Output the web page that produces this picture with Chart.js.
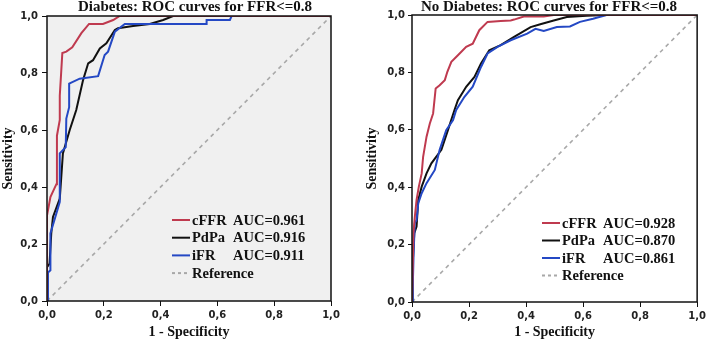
<!DOCTYPE html>
<html>
<head>
<meta charset="utf-8">
<script src="https://cdn.jsdelivr.net/npm/chart.js@4/dist/chart.umd.min.js"></script>
<style>
  html, body { margin:0; padding:0; background:#ffffff; width:709px; height:344px; overflow:hidden; }
  .panel { position:absolute; top:0; height:344px; }
</style>
</head>
<body>
<div class="panel" style="left:0px;width:350px"><canvas id="c1" width="350" height="344"></canvas></div>
<div class="panel" style="left:355px;width:354px"><canvas id="c2" width="354" height="344"></canvas></div>
<script>
// ---------- DATA ----------
const seriesNames = ['cFFR', 'PdPa', 'iFR'];
const referenceName = 'Reference';
const titles = ['Diabetes: ROC curves for FFR<=0.8', 'No Diabetes: ROC curves for FFR<=0.8'];
const xTitle = '1 - Specificity';
const yTitle = 'Sensitivity';
const tickValues = [0, 0.2, 0.4, 0.6, 0.8, 1.0];

const aucDiabetes = ['0.961', '0.916', '0.911'];
const aucNoDiabetes = ['0.928', '0.870', '0.861'];

// [1 - specificity, sensitivity]
const diabetes_cFFR = [[0,0],[0,0.30],[0.012,0.365],[0.033,0.41],[0.035,0.58],[0.045,0.635],[0.045,0.72],[0.054,0.87],[0.068,0.875],[0.089,0.89],[0.121,0.94],[0.148,0.972],[0.197,0.972],[0.233,0.986],[0.256,1.0],[1,1]];
const diabetes_PdPa = [[0,0],[0,0.119],[0.009,0.131],[0.015,0.237],[0.021,0.295],[0.045,0.359],[0.056,0.518],[0.080,0.60],[0.103,0.67],[0.127,0.775],[0.145,0.834],[0.162,0.845],[0.186,0.886],[0.209,0.904],[0.239,0.951],[0.250,0.957],[0.303,0.965],[0.362,0.972],[0.409,0.986],[0.444,1.0],[1,1]];
const diabetes_iFR = [[0,0],[0.0035,0.10],[0.012,0.108],[0.012,0.237],[0.033,0.307],[0.045,0.348],[0.045,0.518],[0.066,0.54],[0.068,0.64],[0.078,0.68],[0.078,0.763],[0.115,0.78],[0.180,0.789],[0.203,0.863],[0.215,0.875],[0.239,0.945],[0.274,0.972],[0.562,0.972],[0.562,0.986],[0.644,0.986],[0.650,1.0],[1,1]];

const noDiabetes_cFFR = [[0,0],[0.005,0.24],[0.010,0.298],[0.016,0.356],[0.024,0.402],[0.034,0.448],[0.039,0.506],[0.051,0.576],[0.0625,0.622],[0.074,0.657],[0.083,0.744],[0.097,0.755],[0.115,0.773],[0.124,0.802],[0.138,0.837],[0.161,0.86],[0.19,0.889],[0.213,0.90],[0.236,0.947],[0.265,0.976],[0.311,0.979],[0.346,0.981],[0.358,0.984],[0.392,0.995],[0.462,0.995],[0.497,1.0],[1,1]];
const noDiabetes_PdPa = [[0,0],[0.002,0.124],[0.008,0.24],[0.016,0.263],[0.022,0.356],[0.034,0.402],[0.051,0.448],[0.068,0.483],[0.103,0.53],[0.126,0.599],[0.149,0.669],[0.161,0.703],[0.19,0.75],[0.219,0.784],[0.242,0.831],[0.271,0.877],[0.311,0.895],[0.358,0.924],[0.416,0.958],[0.450,0.968],[0.497,0.981],[0.543,0.993],[0.612,0.997],[0.682,1.0],[1,1]];
const noDiabetes_iFR = [[0,0],[0.003,0.066],[0.006,0.182],[0.010,0.275],[0.016,0.286],[0.022,0.344],[0.034,0.379],[0.051,0.414],[0.080,0.46],[0.097,0.53],[0.120,0.599],[0.144,0.634],[0.155,0.669],[0.184,0.715],[0.213,0.75],[0.242,0.819],[0.265,0.866],[0.30,0.889],[0.346,0.912],[0.404,0.935],[0.433,0.952],[0.462,0.944],[0.508,0.958],[0.554,0.96],[0.589,0.976],[0.635,0.987],[0.682,1.0],[1,1]];

const referenceLine = [[0,0],[1,1]];

// ---------- STYLE ----------
const colors = ['#bf3a4f', '#111111', '#2448c4'];
const refColor = '#a8a8a8';
const serif = '"Liberation Serif", "Times New Roman", serif';
const sans = '"DejaVu Sans", sans-serif';

function toPoints(arr) { return arr.map(p => ({x: p[0], y: p[1]})); }

function makeChart(id, cfg) {
  const framePlugin = {
    id: 'frame' + id,
    beforeDatasetsDraw(chart) {
      const a = chart.chartArea, ctx = chart.ctx;
      ctx.save();
      ctx.fillStyle = cfg.bg;
      ctx.fillRect(a.left, a.top, a.right - a.left, a.bottom - a.top);
      ctx.restore();
    },
    afterDraw(chart) {
      const a = chart.chartArea, ctx = chart.ctx;
      ctx.save();
      ctx.strokeStyle = '#111';
      ctx.lineWidth = 1.5;
      ctx.strokeRect(a.left, a.top, a.right - a.left, a.bottom - a.top);
      // title
      ctx.fillStyle = '#111';
      ctx.font = 'bold 15px ' + serif;
      ctx.textAlign = 'center';
      ctx.textBaseline = 'alphabetic';
      ctx.fillText(cfg.title, cfg.titleX, cfg.titleY);
      // legend
      const lx = a.left + cfg.legend.dx, ly0 = a.top + cfg.legend.dy;
      const items = seriesNames.map((n, i) => ({name: n, auc: 'AUC=' + cfg.auc[i], color: colors[i], dash: []}));
      items.push({name: referenceName, auc: '', color: refColor, dash: [3, 3]});
      ctx.font = 'bold 14.5px ' + serif;
      ctx.textAlign = 'left';
      ctx.textBaseline = 'middle';
      items.forEach((it, i) => {
        const y = ly0 + i * cfg.legend.row;
        ctx.beginPath();
        ctx.setLineDash(it.dash);
        ctx.strokeStyle = it.color;
        ctx.lineWidth = 2;
        ctx.moveTo(lx, y);
        ctx.lineTo(lx + 18, y);
        ctx.stroke();
        ctx.setLineDash([]);
        ctx.fillStyle = '#111';
        ctx.fillText(it.name, lx + 20, y + 1);
        if (it.auc) ctx.fillText(it.auc, lx + cfg.legend.aucDx, y + 1);
      });
      ctx.restore();
    }
  };

  const datasets = [
    {label: seriesNames[0], data: toPoints(cfg.data[0]), borderColor: colors[0], order: 1},
    {label: seriesNames[2], data: toPoints(cfg.data[2]), borderColor: colors[2], order: 2},
    {label: seriesNames[1], data: toPoints(cfg.data[1]), borderColor: colors[1], order: 3},
    {label: referenceName, data: toPoints(referenceLine), borderColor: refColor, borderDash: [4, 4], borderWidth: 1.6, order: 4}
  ];
  datasets.forEach(d => { d.pointRadius = 0; d.tension = 0; d.fill = false; if (!d.borderWidth) d.borderWidth = 2; });

  return new Chart(document.getElementById(id), {
    type: 'line',
    data: {datasets},
    options: {
      responsive: false,
      animation: false,
      devicePixelRatio: 1,
      layout: {padding: {left: 0, right: cfg.padRight, top: cfg.padTop, bottom: 0}},
      plugins: {legend: {display: false}, tooltip: {enabled: false}, title: {display: false}},
      scales: {
        x: {
          type: 'linear', min: 0, max: 1,
          afterBuildTicks: s => { s.ticks = tickValues.map(v => ({value: v})); },
          afterFit: s => { s.height = cfg.xAxisH; },
          ticks: {callback: v => v.toFixed(1).replace('.', ','), color: '#222', font: {family: sans, size: 10, weight: 'bold'}, padding: 3, maxRotation: 0},
          grid: {display: true, drawOnChartArea: false, drawTicks: true, tickLength: 5, color: '#111'},
          border: {display: false},
          title: {display: true, text: xTitle, color: '#111', font: {family: serif, size: 14, weight: 'bold'}, padding: {top: 0, bottom: 3}}
        },
        y: {
          type: 'linear', min: 0, max: 1,
          afterBuildTicks: s => { s.ticks = tickValues.map(v => ({value: v})); },
          afterFit: s => { s.width = cfg.yAxisW; },
          ticks: {callback: v => v.toFixed(1).replace('.', ','), color: '#222', font: {family: sans, size: 10, weight: 'bold'}, padding: cfg.yTickPad},
          grid: {display: true, drawOnChartArea: false, drawTicks: true, tickLength: cfg.yTickLen, color: '#111'},
          border: {display: false},
          title: {display: true, text: yTitle, color: '#111', font: {family: serif, size: 14, weight: 'bold'}, padding: {top: cfg.yTitlePad, bottom: 0}}
        }
      }
    },
    plugins: [framePlugin]
  });
}

makeChart('c1', {
  data: [diabetes_cFFR, diabetes_PdPa, diabetes_iFR], auc: aucDiabetes,
  title: titles[0], titleX: 195, titleY: 10.5, bg: '#f0f0f0',
  padTop: 16, padRight: 19, xAxisH: 43, yAxisW: 47, yTickPad: 4, yTickLen: 5, yTitlePad: 0,
  legend: {dx: 125, dy: 204, row: 17.7, aucDx: 61}
});
makeChart('c2', {
  data: [noDiabetes_cFFR, noDiabetes_PdPa, noDiabetes_iFR], auc: aucNoDiabetes,
  title: titles[1], titleX: 194, titleY: 10.5, bg: '#ffffff',
  padTop: 15, padRight: 9, xAxisH: 42, yAxisW: 57, yTickPad: 3, yTickLen: 4, yTitlePad: 9,
  legend: {dx: 130, dy: 208, row: 17.5, aucDx: 61}
});
</script>
</body>
</html>
